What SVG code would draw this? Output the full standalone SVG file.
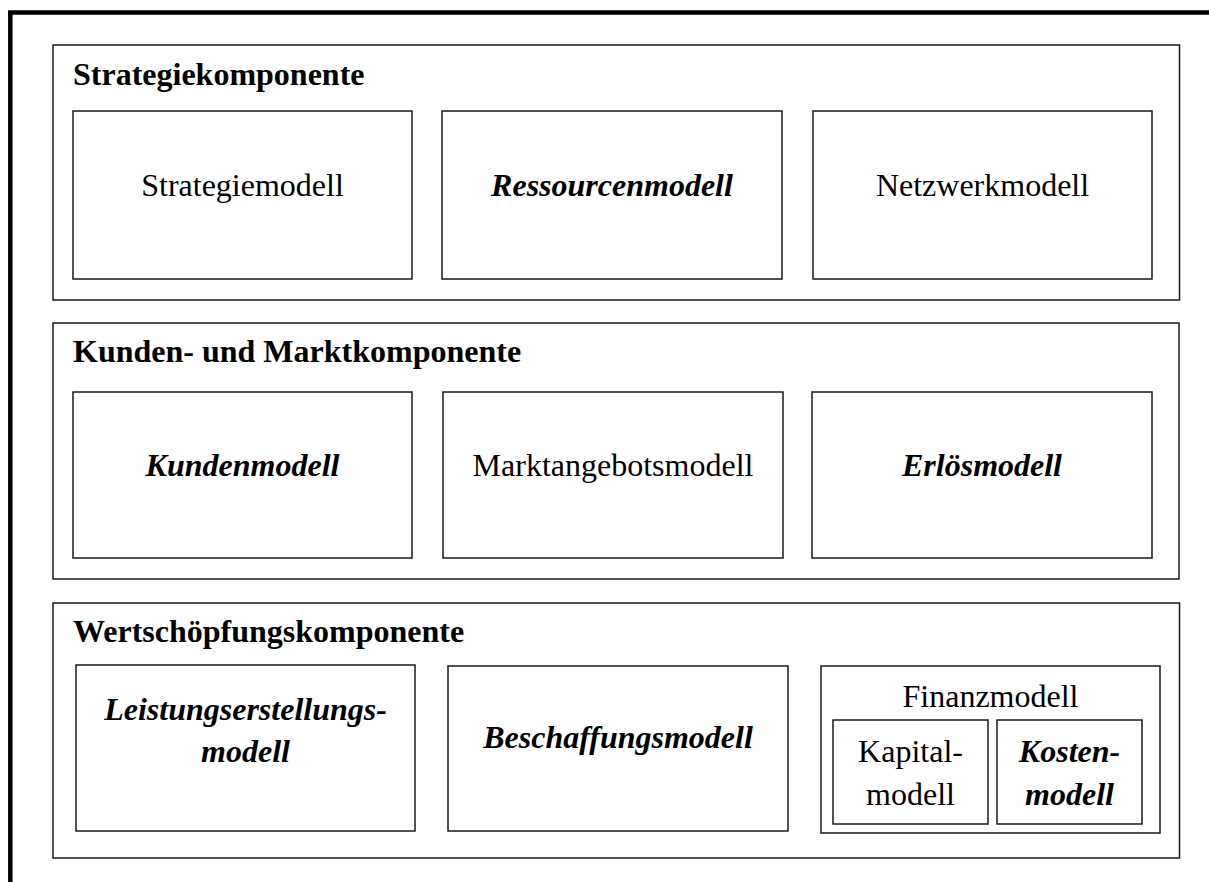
<svg xmlns="http://www.w3.org/2000/svg" width="1209" height="882" viewBox="0 0 1209 882">
  <style>
    .frame { fill: none; stroke: #000; stroke-width: 4.5; }
    .box { fill: #fff; stroke: #1a1a1a; stroke-width: 1.5; }
    text { font-family: "Liberation Serif", "Times New Roman", serif; font-size: 32px; fill: #000; }
    .title { font-weight: bold; }
    .label { text-anchor: middle; }
    .em { font-weight: bold; font-style: italic; }
  </style>
  <rect width="1209" height="882" fill="#fff"/>
  <!-- heavy outer frame, open towards right and bottom -->
  <path class="frame" d="M10.3,882 V12.5 H1209"/>

  <g id="strategiekomponente">
    <rect class="box" x="53" y="45" width="1126.5" height="255"/>
    <text class="title" x="73" y="85">Strategiekomponente</text>
    <g id="strategiemodell">
      <rect class="box" x="73" y="111" width="339" height="168"/>
      <text class="label" x="242.5" y="196">Strategiemodell</text>
    </g>
    <g id="ressourcenmodell">
      <rect class="box" x="442" y="111" width="340" height="168"/>
      <text class="label em" x="612" y="196">Ressourcenmodell</text>
    </g>
    <g id="netzwerkmodell">
      <rect class="box" x="813" y="111" width="339" height="168"/>
      <text class="label" x="982.5" y="196">Netzwerkmodell</text>
    </g>
  </g>

  <g id="kunden-und-marktkomponente">
    <rect class="box" x="53" y="323" width="1126" height="256"/>
    <text class="title" x="73" y="362">Kunden- und Marktkomponente</text>
    <g id="kundenmodell">
      <rect class="box" x="73" y="392" width="339" height="166"/>
      <text class="label em" x="242.5" y="476">Kundenmodell</text>
    </g>
    <g id="marktangebotsmodell">
      <rect class="box" x="443" y="392" width="340" height="166"/>
      <text class="label" x="613" y="476">Marktangebotsmodell</text>
    </g>
    <g id="erloesmodell">
      <rect class="box" x="812" y="392" width="340" height="166"/>
      <text class="label em" x="982" y="476">Erlösmodell</text>
    </g>
  </g>

  <g id="wertschoepfungskomponente">
    <rect class="box" x="53" y="603" width="1126.5" height="255"/>
    <text class="title" x="73" y="642">Wertschöpfungskomponente</text>
    <g id="leistungserstellungsmodell">
      <rect class="box" x="76" y="665" width="339" height="166"/>
      <text class="label em" x="245.5" y="720">Leistungserstellungs-</text>
      <text class="label em" x="245.5" y="762">modell</text>
    </g>
    <g id="beschaffungsmodell">
      <rect class="box" x="448" y="666" width="340" height="165"/>
      <text class="label em" x="618" y="748">Beschaffungsmodell</text>
    </g>
    <g id="finanzmodell">
      <rect class="box" x="821" y="666" width="339" height="167"/>
      <text class="label" x="990.5" y="707">Finanzmodell</text>
      <g id="kapitalmodell">
        <rect class="box" x="833" y="720" width="155" height="104"/>
        <text class="label" x="910.5" y="762">Kapital-</text>
        <text class="label" x="910.5" y="805">modell</text>
      </g>
      <g id="kostenmodell">
        <rect class="box" x="997" y="720" width="145" height="104"/>
        <text class="label em" x="1069.5" y="762">Kosten-</text>
        <text class="label em" x="1069.5" y="805">modell</text>
      </g>
    </g>
  </g>
</svg>
